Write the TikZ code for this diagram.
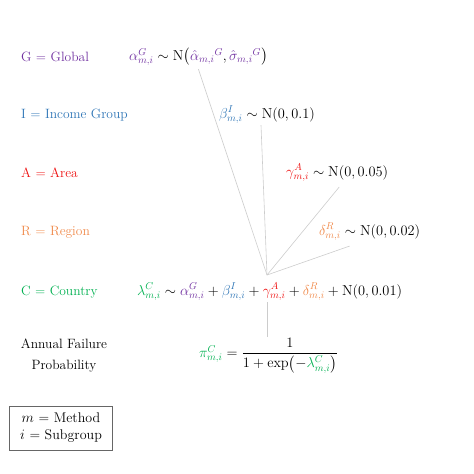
\documentclass[tikz,border=0pt]{standalone}
\usepackage{amsmath}
\usepackage{xcolor}
\usetikzlibrary{positioning, calc}

\definecolor{globalcol}{HTML}{7030A0}
\definecolor{incomecol}{HTML}{2E75B6}
\definecolor{areacol}{HTML}{EE1111}
\definecolor{regioncol}{HTML}{F08A4B}
\definecolor{countrycol}{HTML}{00B050}

\newcommand{\cG}[1]{\textcolor{globalcol}{#1}}
\newcommand{\cI}[1]{\textcolor{incomecol}{#1}}
\newcommand{\cA}[1]{\textcolor{areacol}{#1}}
\newcommand{\cR}[1]{\textcolor{regioncol}{#1}}
\newcommand{\cC}[1]{\textcolor{countrycol}{#1}}

\begin{document}
\begin{tikzpicture}[
    x=1pt, y=-1pt,
    every node/.style={font=\fontsize{14}{17}\selectfont},
    level/.style={anchor=west, inner sep=1pt, font=\fontsize{13.5}{16}\selectfont},
    eqn/.style={anchor=west, inner sep=1pt},
    link/.style={draw=gray!40, line width=0.6pt},
]
\useasboundingbox (0,0) rectangle (474,474);

% level names
\node[level, text=globalcol] (lg) at (20,57) {G = Global};
\node[level, text=incomecol] (li) at (20,115) {I = Income Group};
\node[level, text=areacol] (la) at (20,173) {A = Area};
\node[level, text=regioncol] (lr) at (20,232) {R = Region};
\node[level, text=countrycol] (lc) at (20,292) {C = Country};
\node[align=center, font=\fontsize{13.5}{21}\selectfont] (lp) at (64,356) {Annual Failure\\Probability};
\node[draw=gray!80!black, align=center, minimum width=103, minimum height=44, inner sep=3pt] (key) at (61,428)
    {$m$ = Method\\$i$ = Subgroup};

% equations
\node[eqn] (alpha) at (128,57)
    {$\cG{\alpha^{G}_{m,i}} \sim \mathrm{N}\bigl(\cG{\hat{\alpha}_{m,i}{}^{G}}, \cG{\hat{\sigma}_{m,i}{}^{G}}\bigr)$};
\node[eqn] (beta) at (218,115) {$\cI{\beta^{I}_{m,i}} \sim \mathrm{N}(0, 0.1)$};
\node[eqn] (gamma) at (285,173) {$\cA{\gamma^{A}_{m,i}} \sim \mathrm{N}(0, 0.05)$};
\node[eqn] (delta) at (318,232) {$\cR{\delta^{R}_{m,i}} \sim \mathrm{N}(0, 0.02)$};
\node[eqn] (lambda) at (136,292)
    {$\cC{\lambda^{C}_{m,i}} \sim \cG{\alpha^{G}_{m,i}} + \cI{\beta^{I}_{m,i}} + \cA{\gamma^{A}_{m,i}} + \cR{\delta^{R}_{m,i}} + \mathrm{N}(0, 0.01)$};
\node[eqn] (pi) at (198,356)
    {$\cC{\pi^{C}_{m,i}} = \dfrac{1}{1 + \exp\bigl(-\cC{\lambda^{C}_{m,i}}\bigr)}$};

% links into the country level
\coordinate (hub) at (267,275);
\draw[link] ([yshift=-2pt]alpha.south) -- (hub);
\draw[link] ([xshift=-6pt]beta.south) -- (hub);
\draw[link] ([xshift=2pt, yshift=-4pt]gamma.south) -- (hub);
\draw[link] ([xshift=-20pt, yshift=-4pt]delta.south) -- (hub);
\draw[link] (lambda.south -| hub) -- (pi.north -| hub);
\end{tikzpicture}
\end{document}
